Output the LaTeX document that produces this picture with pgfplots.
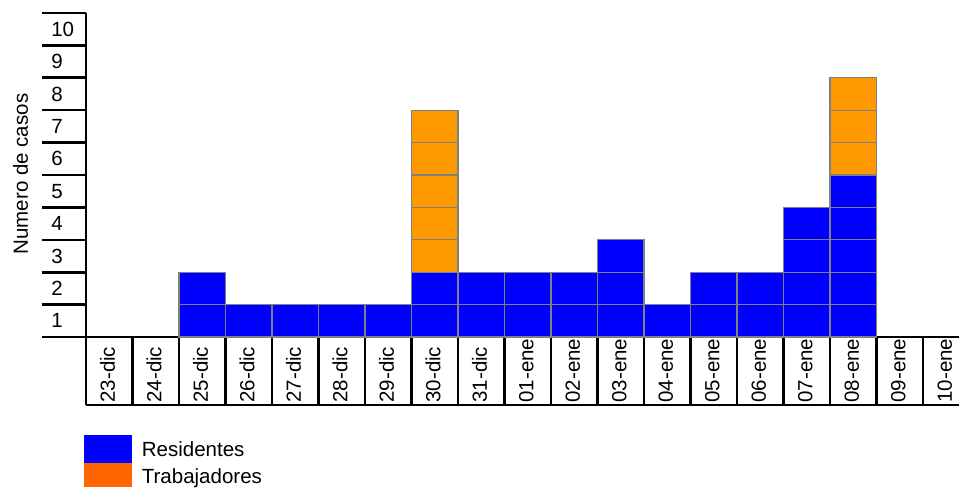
\documentclass[border=0pt]{standalone}
\usepackage{fontspec}
\setmainfont{Liberation Sans}
\usepackage{pgfplots}
\usepackage{pgfplotstable}
\pgfplotsset{compat=1.18}

\definecolor{resid}{HTML}{0000FF}
\definecolor{trab}{HTML}{FF9900}
\definecolor{trableg}{HTML}{FF6600}
\definecolor{celledge}{HTML}{808080}

% one box per case: day index (0 = 23-dic) and centre of the box
\pgfplotstableread{
day lev
2 0.5
2 1.5
3 0.5
4 0.5
5 0.5
6 0.5
7 0.5
7 1.5
8 0.5
8 1.5
9 0.5
9 1.5
10 0.5
10 1.5
11 0.5
11 1.5
11 2.5
12 0.5
13 0.5
13 1.5
14 0.5
14 1.5
15 0.5
15 1.5
15 2.5
15 3.5
16 0.5
16 1.5
16 2.5
16 3.5
16 4.5
}\residentes

\pgfplotstableread{
day lev
7 2.5
7 3.5
7 4.5
7 5.5
7 6.5
16 5.5
16 6.5
16 7.5
}\trabajadores

\pgfdeclareplotmark{cell}{%
  \pgfpathrectangle{\pgfqpoint{-23.25pt}{-16.2pt}}{\pgfqpoint{46.5pt}{32.4pt}}%
  \pgfusepathqfillstroke}

\begin{document}
\begin{tikzpicture}[font=\fontsize{20.5}{24}\selectfont]
\begin{axis}[
    x=46.5pt, y=32.4pt,
    xmin=-0.5, xmax=18.274,
    ymin=0, ymax=10,
    hide axis,
    clip=false,
]

\addplot[only marks, mark=cell, mark options={fill=resid, draw=celledge, line width=1.3pt}]
    table[x=day, y=lev] {\residentes};
\addplot[only marks, mark=cell, mark options={fill=trab, draw=celledge, line width=1.3pt}]
    table[x=day, y=lev] {\trabajadores};

% frame: y scale boxes and date boxes
\draw[line width=2.6pt] (axis cs:-0.5,0) -- (axis cs:-0.5,10);
\pgfplotsinvokeforeach{0,...,10}{
    \draw[line width=2.6pt] (axis cs:-1.446,#1) -- (axis cs:-0.5,#1);
}
\pgfplotsinvokeforeach{1,...,10}{
    \node[anchor=base west, inner sep=0pt] at (axis cs:-1.25,#1-0.72) {#1};
}
\draw[line width=2.6pt] (axis cs:-1.446,0) -- (axis cs:18.274,0);
\draw[line width=2.6pt] (axis cs:-0.5,-2.1) -- (axis cs:18.274,-2.1);
\pgfplotsinvokeforeach{0,...,18}{
    \draw[line width=2.6pt] (axis cs:#1-0.5,0) -- (axis cs:#1-0.5,-2.1);
}

\foreach \lab [count=\i from 0] in {23-dic,24-dic,25-dic,26-dic,27-dic,28-dic,29-dic,30-dic,31-dic,
    01-ene,02-ene,03-ene,04-ene,05-ene,06-ene,07-ene,08-ene,09-ene,10-ene}{
    \edef\temp{\noexpand\node[rotate=90, anchor=base west, inner sep=0pt]
        at (axis cs:\i+0.12,-2.03) {\lab};}
    \temp
}

\node[rotate=90, anchor=base, inner sep=0pt] at (axis cs:-1.747,5.03) {Numero de casos};

% legend
\fill[resid] (axis cs:-0.543,-3.025) rectangle (axis cs:0.49,-3.88);
\fill[trableg] (axis cs:-0.543,-3.88) rectangle (axis cs:0.49,-4.63);
\node[anchor=base west, inner sep=0pt] at (axis cs:0.698,-3.69) {Residentes};
\node[anchor=base west, inner sep=0pt] at (axis cs:0.698,-4.51) {Trabajadores};

\coordinate (bl) at (axis cs:-2.349,-4.63);
\coordinate (tr) at (axis cs:18.274,10.401);
\end{axis}
\pgfresetboundingbox
\path (bl) rectangle (tr);
\end{tikzpicture}
\end{document}
